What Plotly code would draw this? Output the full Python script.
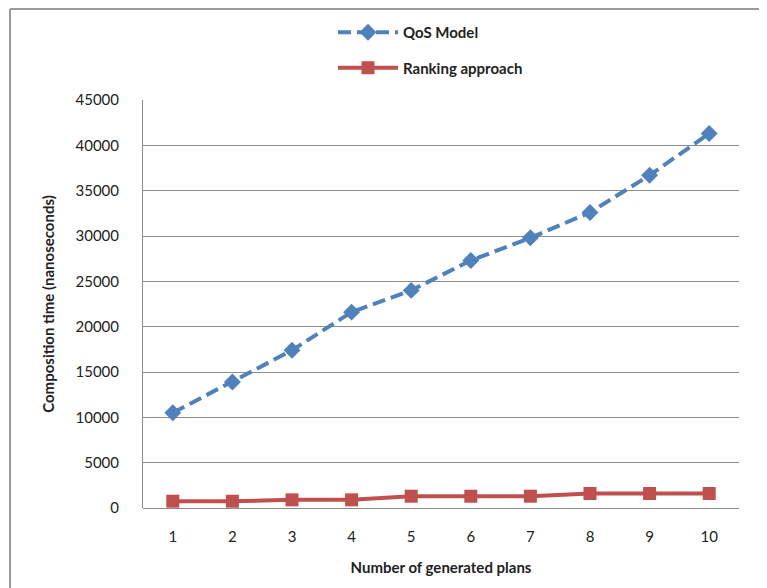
import plotly.graph_objects as go

plans = ["1", "2", "3", "4", "5", "6", "7", "8", "9", "10"]
qos_model = [10500, 13900, 17400, 21600, 24000, 27300, 29800, 32600, 36700, 41300]
ranking = [750, 750, 900, 900, 1300, 1300, 1300, 1600, 1600, 1600]

y_ticks = list(range(0, 45001, 5000))

FONT = "Lato, Open Sans, sans-serif"
BLUE = "#4F81BD"
RED = "#C0504D"

fig = go.Figure()

fig.add_trace(
    go.Scatter(
        x=plans,
        y=qos_model,
        name="<b>QoS Model</b>",
        mode="lines+markers",
        legendgroup="a",
        line=dict(color=BLUE, width=4, dash="13px,6px"),
        marker=dict(symbol="diamond", size=13, color=BLUE),
    )
)
fig.add_trace(
    go.Scatter(
        x=plans,
        y=ranking,
        name="<b>Ranking approach</b>",
        mode="lines+markers",
        legendgroup="b",
        line=dict(color=RED, width=4),
        marker=dict(symbol="square", size=13, color=RED),
    )
)

# page has an 8px body margin, so the figure starts at (8, 8)
OFF = 8
W, H = 767 - OFF, 588 - OFF
# plot area on the page: x 143..739 px, y 100..508 px
L, R, T, B = 143 - OFF, W - (739 - OFF), 100 - OFF, H - (508 - OFF)
PW, PH = W - L - R, H - T - B

def px(x):
    # page x -> paper x
    return (x - OFF - L) / PW

def py(y):
    # page y -> paper y
    return (H - B - (y - OFF)) / PH

fig.update_layout(
    width=W,
    height=H,
    margin=dict(l=L, r=R, t=T, b=B, autoexpand=False),
    plot_bgcolor="white",
    paper_bgcolor="white",
    font=dict(family=FONT, size=14, color="#222222"),
    showlegend=True,
    legend=dict(
        x=px(333),
        y=py(16),
        xanchor="left",
        yanchor="top",
        font=dict(family=FONT, size=15, color="#222222"),
        tracegroupgap=13,
        itemwidth=60,
        bgcolor="rgba(0,0,0,0)",
    ),
)

fig.update_xaxes(
    type="category",
    range=[-0.5, len(plans) - 0.5],
    showgrid=False,
    showline=False,
    ticks="",
    ticklabelstandoff=18,
    tickfont=dict(family=FONT, size=15, color="#222222"),
    title=dict(
        text="<b>Number of generated plans</b>",
        font=dict(family=FONT, size=15, color="#222222"),
        standoff=18,
    ),
)

fig.update_yaxes(
    range=[0, 45000],
    tickvals=y_ticks,
    ticktext=[str(v) for v in y_ticks],
    showgrid=True,
    gridcolor="#8C8C8C",
    gridwidth=1,
    zeroline=True,
    zerolinecolor="#8C8C8C",
    zerolinewidth=1,
    showline=True,
    linecolor="#8C8C8C",
    linewidth=1,
    ticks="",
    ticklabelstandoff=20,
    tickfont=dict(family=FONT, size=15, color="#222222"),
    title=dict(
        text="<b>Composition time (nanoseconds)</b>",
        font=dict(family=FONT, size=15, color="#222222"),
        standoff=17,
    ),
)

# outer frame of the original chart (only top and left edges visible)
fig.add_shape(
    type="line", xref="paper", yref="paper",
    x0=px(10), x1=px(800), y0=py(9), y1=py(9),
    line=dict(color="#9A9A9A", width=2),
)
fig.add_shape(
    type="line", xref="paper", yref="paper",
    x0=px(10), x1=px(10), y0=py(9), y1=py(620),
    line=dict(color="#9A9A9A", width=2),
)

fig.write_html("out.html")
